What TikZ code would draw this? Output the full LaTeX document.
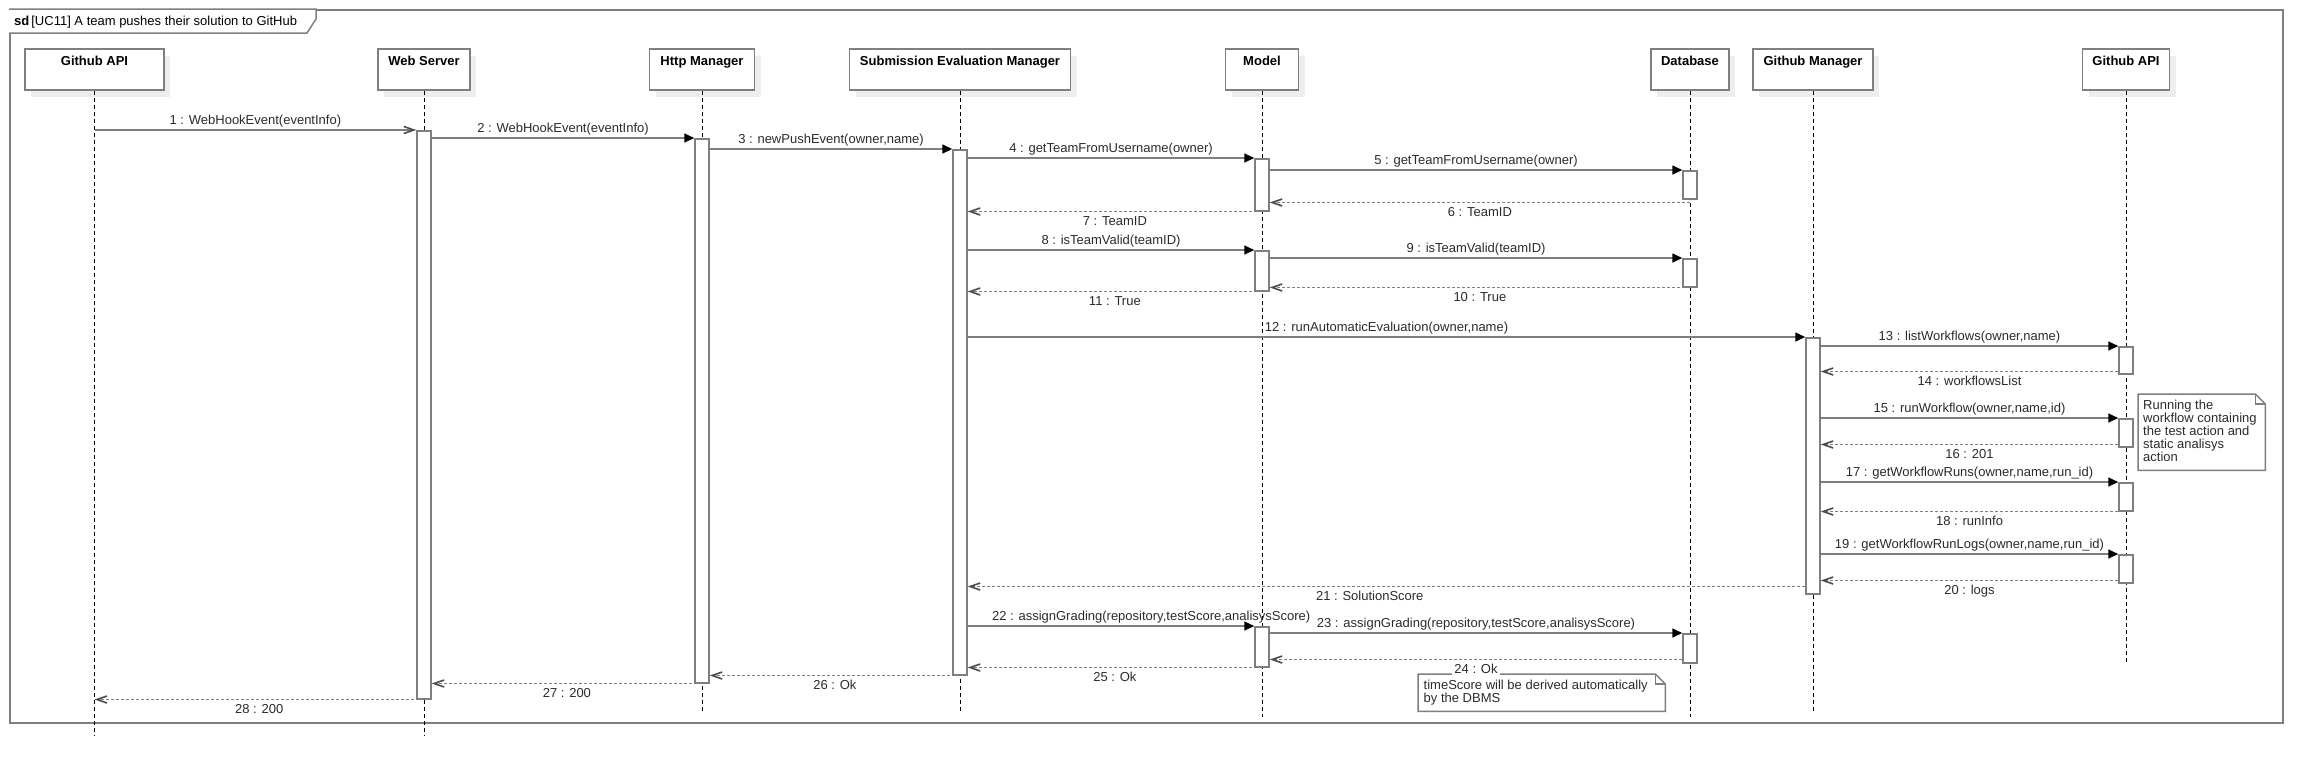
\documentclass[tikz,border=0pt]{standalone}
\usepackage{fontspec}
\setmainfont{Liberation Sans}
\usetikzlibrary{arrows.meta,calc,shadows}
\definecolor{lc}{HTML}{7F7F7F}
\definecolor{shc}{HTML}{EEEEEE}
\definecolor{tc}{HTML}{2B2B2B}
\tikzset{
  every node/.style={font=\fontsize{13}{13}\selectfont, inner sep=0pt, text=tc},
  hdrbox/.style={draw=lc, line width=1.5pt, fill=white, minimum height=41pt,
    general shadow={fill=shc, shadow xshift=6pt, shadow yshift=-7pt}},
  hdrtxt/.style={font=\fontsize{13}{13}\selectfont\bfseries, text=black, anchor=base},
  lifeln/.style={line width=0.9pt, dash pattern=on 4pt off 3pt, black},
  actbar/.style={draw=lc, line width=1.5pt, fill=white, minimum width=14pt, anchor=north},
  callmsg/.style={draw=lc, line width=1.6pt, -{Triangle[length=10pt,width=9pt,color=black]}},
  asyncmsg/.style={draw=lc, line width=1.6pt, -{Straight Barb[length=10pt,width=7pt,color=black!70]}},
  retmsg/.style={draw=lc, line width=1.6pt, dash pattern=on 3pt off 2pt, -{Straight Barb[length=10pt,width=7pt,color=black!70]}},
  clab/.style={anchor=base, yshift=6pt},
  rlab/.style={anchor=base, yshift=-13.5pt},
  notebox/.style={draw=lc, line width=1.5pt, line join=miter},
  notetxt/.style={align=left, anchor=north west},
}
\begin{document}
\begin{tikzpicture}[x=1pt,y=-1pt]
\useasboundingbox[fill=white] (0,0) rectangle (2322,769);

% frame
\node[draw=lc, line width=1.8pt, minimum width=2273pt, minimum height=713pt, anchor=north west] (frame) at (9,9) {};
\draw[draw=lc, line width=1.5pt, fill=white, line join=miter] (frame.north west) -- ++(307,0) -- ++(0,10) -- ++(-9,14) -- ++(-298,0);
\node[anchor=base west, text=black] (ftitle) at (14,25) {\bfseries sd\hspace{2pt}\mdseries[UC11] A team pushes their solution to GitHub};

% header boxes
\node[hdrbox, minimum width=139pt] (gapi) at (94.5,69.5) {};
\node[hdrbox, minimum width=92pt]  (ws)   at (424,69.5) {};
\node[hdrbox, minimum width=105pt] (http) at (702,69.5) {};
\node[hdrbox, minimum width=221pt] (sem)  at (960,69.5) {};
\node[hdrbox, minimum width=73pt]  (model) at (1262,69.5) {};
\node[hdrbox, minimum width=78pt]  (db)   at (1690,69.5) {};
\node[hdrbox, minimum width=120pt] (gm)   at (1813,69.5) {};
\node[hdrbox, minimum width=87pt]  (gapib) at (2126,69.5) {};
\node[hdrtxt] (gapiT)  at ($(gapi.north)+(0,17.5)$)  {Github API};
\node[hdrtxt] (wsT)    at ($(ws.north)+(0,17.5)$)    {Web Server};
\node[hdrtxt] (httpT)  at ($(http.north)+(0,17.5)$)  {Http Manager};
\node[hdrtxt] (semT)   at ($(sem.north)+(0,17.5)$)   {Submission Evaluation Manager};
\node[hdrtxt] (modelT) at ($(model.north)+(0,17.5)$) {Model};
\node[hdrtxt] (dbT)    at ($(db.north)+(0,17.5)$)    {Database};
\node[hdrtxt] (gmT)    at ($(gm.north)+(0,17.5)$)    {Github Manager};
\node[hdrtxt] (gapibT) at ($(gapib.north)+(0,17.5)$) {Github API};

% lifelines
\coordinate (gapiE) at (94.5,736);
\coordinate (wsE) at (424,736);
\coordinate (httpE) at (702,711);
\coordinate (semE) at (960,711);
\coordinate (modelE) at (1262,717);
\coordinate (dbE) at (1690,717);
\coordinate (gmE) at (1813,712);
\coordinate (gapibE) at (2126,664);
\draw[lifeln] (gapi.south) -- (gapiE);
\draw[lifeln] (ws.south) -- (wsE);
\draw[lifeln] (http.south) -- (httpE);
\draw[lifeln] (sem.south) -- (semE);
\draw[lifeln] (model.south) -- (modelE);
\draw[lifeln] (db.south) -- (dbE);
\draw[lifeln] (gm.south) -- (gmE);
\draw[lifeln] (gapib.south) -- (gapibE);

% activation bars
\node[actbar, minimum height=568pt] (wsA)   at (424,130) {};
\node[actbar, minimum height=544pt] (httpA) at (702,138) {};
\node[actbar, minimum height=525pt] (semA)  at (960,149) {};
\node[actbar, minimum height=52pt]  (modA1) at (1262,158) {};
\node[actbar, minimum height=28pt]  (dbA1)  at (1690,170) {};
\node[actbar, minimum height=40pt]  (modA2) at (1262,250) {};
\node[actbar, minimum height=28pt]  (dbA2)  at (1690,258) {};
\node[actbar, minimum height=256pt] (gmA)   at (1813,337) {};
\node[actbar, minimum height=27pt]  (apiA1) at (2126,346) {};
\node[actbar, minimum height=28pt]  (apiA2) at (2126,418) {};
\node[actbar, minimum height=28pt]  (apiA3) at (2126,482) {};
\node[actbar, minimum height=28pt]  (apiA4) at (2126,554) {};
\node[actbar, minimum height=40pt]  (modA3) at (1262,626) {};
\node[actbar, minimum height=29pt]  (dbA3)  at (1690,633) {};

% helper coordinates for returns
\coordinate (m6)  at ($(dbA1.south)+(0,3)$);
\coordinate (m14) at ($(apiA1.south west)+(0,-3)$);
\coordinate (m16) at ($(apiA2.south west)+(0,-3)$);
\coordinate (m20) at ($(apiA4.south west)+(0,-3)$);
\coordinate (m21) at ($(gmA.south west)+(0,-8)$);
\coordinate (m24) at ($(dbA3.south west)+(0,-4)$);

% messages
\draw[asyncmsg] (wsA.north west -| gapi.south) -- (wsA.north west) node[clab, pos=.5] (l1) {1 : WebHookEvent(eventInfo)};
\draw[callmsg] (httpA.north west -| wsA.east) -- (httpA.north west) node[clab, pos=.5] (l2) {2 : WebHookEvent(eventInfo)};
\draw[callmsg] (semA.north west -| httpA.east) -- (semA.north west) node[clab, pos=.5] (l3) {3 : newPushEvent(owner,name)};
\draw[callmsg] (modA1.north west -| semA.east) -- (modA1.north west) node[clab, pos=.5] (l4) {4 : getTeamFromUsername(owner)};
\draw[callmsg] (dbA1.north west -| modA1.east) -- (dbA1.north west) node[clab, pos=.5] (l5) {5 : getTeamFromUsername(owner)};
\draw[retmsg] (m6) -- (m6 -| modA1.east) node[rlab, pos=.5] (l6) {6 : TeamID};
\draw[retmsg] (modA1.south) -- (modA1.south -| semA.east) node[rlab, pos=.5] (l7) {7 : TeamID};
\draw[callmsg] (modA2.north west -| semA.east) -- (modA2.north west) node[clab, pos=.5] (l8) {8 : isTeamValid(teamID)};
\draw[callmsg] (dbA2.north west -| modA2.east) -- (dbA2.north west) node[clab, pos=.5] (l9) {9 : isTeamValid(teamID)};
\draw[retmsg] (dbA2.south) -- (dbA2.south -| modA2.east) node[rlab, pos=.5] (l10) {10 : True};
\draw[retmsg] (modA2.south) -- (modA2.south -| semA.east) node[rlab, pos=.5] (l11) {11 : True};
\draw[callmsg] (gmA.north west -| semA.east) -- (gmA.north west) node[clab, pos=.5] (l12) {12 : runAutomaticEvaluation(owner,name)};
\draw[callmsg] (apiA1.north west -| gmA.east) -- (apiA1.north west) node[clab, pos=.5] (l13) {13 : listWorkflows(owner,name)};
\draw[retmsg] (m14) -- (m14 -| gmA.east) node[rlab, pos=.5] (l14) {14 : workflowsList};
\draw[callmsg] (apiA2.north west -| gmA.east) -- (apiA2.north west) node[clab, pos=.5] (l15) {15 : runWorkflow(owner,name,id)};
\draw[retmsg] (m16) -- (m16 -| gmA.east) node[rlab, pos=.5] (l16) {16 : 201};
\draw[callmsg] (apiA3.north west -| gmA.east) -- (apiA3.north west) node[clab, pos=.5] (l17) {17 : getWorkflowRuns(owner,name,run\_id)};
\draw[retmsg] (apiA3.south west) -- (apiA3.south west -| gmA.east) node[rlab, pos=.5] (l18) {18 : runInfo};
\draw[callmsg] (apiA4.north west -| gmA.east) -- (apiA4.north west) node[clab, pos=.5] (l19) {19 : getWorkflowRunLogs(owner,name,run\_id)};
\draw[retmsg] (m20) -- (m20 -| gmA.east) node[rlab, pos=.5] (l20) {20 : logs};
\draw[retmsg] (m21) -- (m21 -| semA.east) node[rlab, pos=.52] (l21) {21 : SolutionScore};
\draw[callmsg] (modA3.north west -| semA.east) -- (modA3.north west) node[clab, pos=.64] (l22) {22 : assignGrading(repository,testScore,analisysScore)};
\draw[callmsg] (dbA3.north west -| modA3.east) -- (dbA3.north west) node[clab, pos=.5] (l23) {23 : assignGrading(repository,testScore,analisysScore)};

% notes
\node[minimum width=127pt, minimum height=76pt, anchor=north west] (note1) at (2138,394) {};
\draw[notebox] (note1.north west) -- ($(note1.north east)+(-10,0)$) -- ($(note1.north east)+(0,10)$) -- (note1.south east) -- (note1.south west) -- cycle;
\draw[notebox] ($(note1.north east)+(-10,0)$) -- ++(0,10) -- ++(10,0);
\node[notetxt] (note1t) at ($(note1.north west)+(5,6)$) {Running the\\workflow containing\\the test action and\\static analisys\\action};

\node[minimum width=247pt, minimum height=37pt, anchor=north west] (note2) at (1418,674) {};
\draw[notebox] (note2.north west) -- ($(note2.north east)+(-10,0)$) -- ($(note2.north east)+(0,10)$) -- (note2.south east) -- (note2.south west) -- cycle;
\draw[notebox] ($(note2.north east)+(-10,0)$) -- ++(0,10) -- ++(10,0);
\node[notetxt] (note2t) at ($(note2.north west)+(5.5,6)$) {timeScore will be derived automatically\\by the DBMS};

\draw[retmsg] (m24) -- (m24 -| modA3.east) node[rlab, pos=.5, fill=white, inner xsep=2pt, inner ysep=3.5pt] (l24) {24 : Ok};
\draw[retmsg] (modA3.south) -- (modA3.south -| semA.east) node[rlab, pos=.5] (l25) {25 : Ok};
\draw[retmsg] (semA.south) -- (semA.south -| httpA.east) node[rlab, pos=.5] (l26) {26 : Ok};
\draw[retmsg] (httpA.south) -- (httpA.south -| wsA.east) node[rlab, pos=.5] (l27) {27 : 200};
\draw[retmsg] (wsA.south) -- (wsA.south -| gapi.south) node[rlab, pos=.5] (l28) {28 : 200};
\end{tikzpicture}
\end{document}
